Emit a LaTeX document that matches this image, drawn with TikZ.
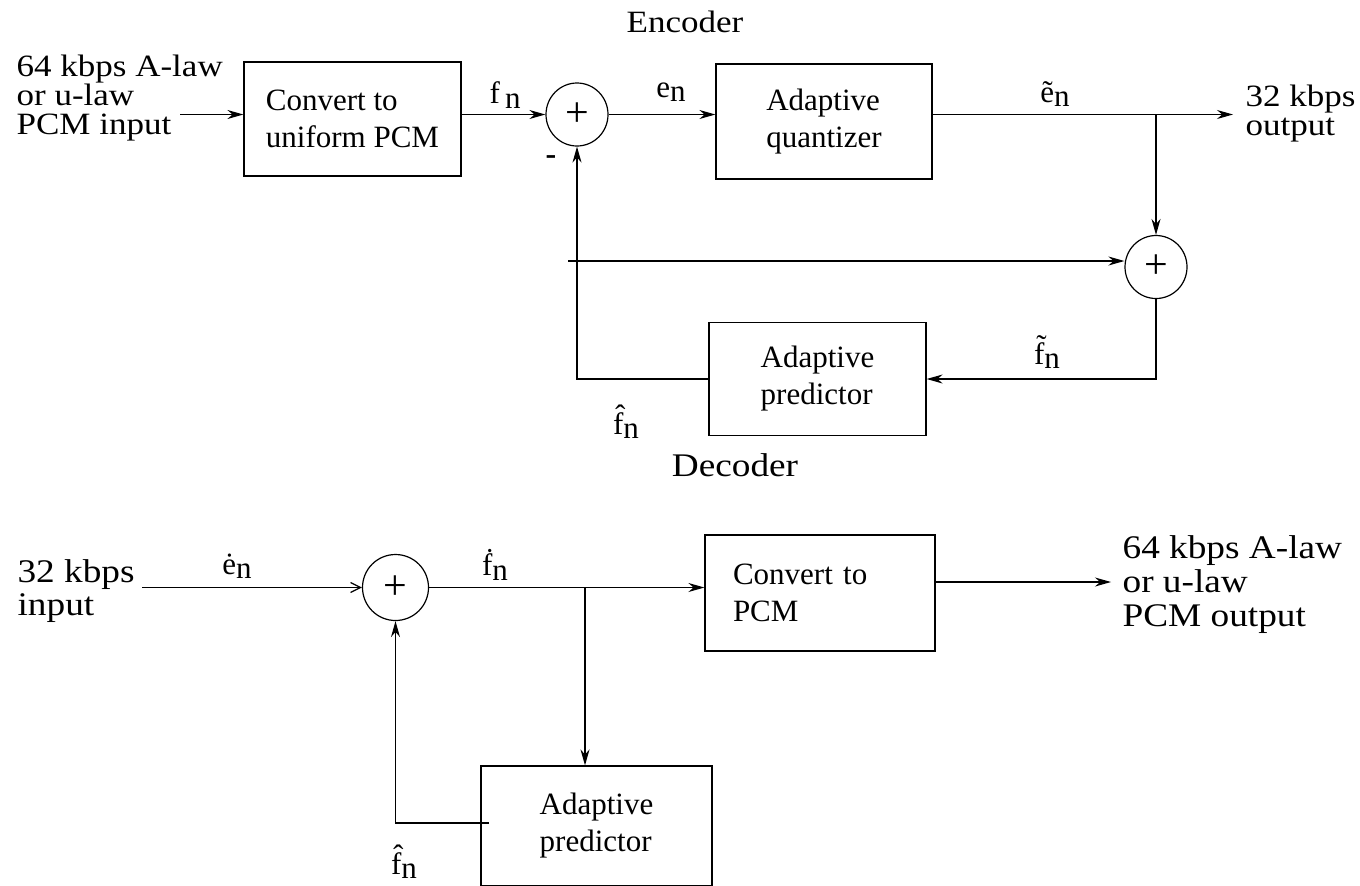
\documentclass[tikz,border=0pt]{standalone}
\usepackage{fontspec}
\setmainfont{Liberation Serif}
\newfontfamily\widefont[FakeStretch=1.13]{Liberation Serif}
\usetikzlibrary{arrows.meta,shapes.geometric}
\newcommand*\sgnl[2]{#1\raisebox{-0.3ex}{#2}}
\newcommand*\lblsmall{\widefont\fontsize{15.5}{14.5}\selectfont}
\newcommand*\lblbig{\widefont\fontsize{16.5}{16.5}\selectfont}
\tikzstyle{block}=[draw,rectangle,inner sep=0pt,align=left,font=\fontsize{15.5}{18.5}\selectfont]
\tikzstyle{sum}=[draw,ellipse,inner sep=0pt,minimum width=31pt,minimum height=31.5pt,font=\fontsize{21}{21}\selectfont]
\tikzstyle{sig}=[inner sep=0pt,font=\fontsize{15.5}{15.5}\selectfont]
\tikzstyle{io}=[inner sep=0pt,anchor=west,align=left]
\tikzstyle{arr}=[-{Stealth[length=8pt,width=4.5pt]}]

\begin{document}
\begin{tikzpicture}[x=0.5pt, y=-0.5pt, line width=0.6pt]
      \useasboundingbox (0,0) rectangle (1360,885);
      \clip (0,0) rectangle (1360,885);
      % encoder
      \node (enc) [font=\lblsmall] at (685,22) {Encoder};
      \node (in1) [io, font=\lblsmall] at (16,98) {64 kbps A-law\\or u-law\\PCM input};
      \node (conv) [block, minimum width=108.5pt, minimum height=57pt] at (352.5,119) {Convert to\\uniform PCM};
      \node (sum1) [sum] at (577,114.5) {+};
      \node (quant) [block, minimum width=108pt, minimum height=57.5pt] at (824,121.5) {Adaptive\\quantizer};
      \node (out1) [io, font=\lblsmall] at (1245,114) {32 kbps\\output};
      \node (sum2) [sum] at (1156,267) {+};
      \node (pred1) [block, minimum width=108.5pt, minimum height=56.5pt] at (817.5,379) {Adaptive\\predictor};
      \coordinate (x1) at (180,114.5);
      \coordinate (y1) at (1233,114.5);
      \coordinate (b1) at (1156,114.5);
      \coordinate (tap) at (568,261);
      \node (fn) [sig] at (505,95) {\sgnl{f\,}{n}};
      \node (en) [sig] at (671,92) {\sgnl{e}{n}};
      \node (eq) [sig] at (1055,94) {\sgnl{\~{e}}{n}};
      \node (minus) [font=\fontsize{16}{16}\selectfont\bfseries] at (551,160) {-};
      \node (ft) [sig] at (1047,352) {\sgnl{\~{f}}{n}};
      \node (fh1) [sig] at (626,422) {\sgnl{\^{f}}{n}};
      \draw[arr] (x1) -- (x1 -| conv.west);
      \draw[arr] (conv.east |- sum1) -- (sum1.west);
      \draw[arr] (sum1.east) -- (sum1.east -| quant.west);
      \draw[arr] (quant.east |- sum1) -- (y1);
      \draw[arr] (b1) -- (sum2.north);
      \draw[arr] (tap) -- (tap -| sum2.west);
      \draw[arr] (sum2.south) |- (pred1.east);
      \draw[arr] (pred1.west) -| (sum1.south);
      % decoder
      \node (dec) [font=\lblbig] at (735,465) {Decoder};
      \node (in2) [io, font=\lblbig] at (17,591) {32 kbps\\input};
      \node (sum3) [sum, minimum width=33pt, minimum height=33pt] at (395.5,587.5) {+};
      \node (topcm) [block, text width=87pt, inner xsep=14pt, minimum height=58pt] at (820,593) {Convert to\\PCM};
      \node (out2) [io, font=\widefont\fontsize{16.5}{17}\selectfont] at (1122,585) {64 kbps A-law\\or u-law\\PCM output};
      \node (pred2) [block, minimum width=115.5pt, minimum height=60pt] at (596.5,826) {Adaptive\\predictor};
      \coordinate (x2) at (142,587.5);
      \coordinate (b2) at (585,587.5);
      \coordinate (y2) at (1111,582);
      \coordinate (r2) at (489,823);
      \node (ed) [sig] at (237,566) {\sgnl{\.{e}}{n}};
      \node (fd) [sig] at (495,565) {\sgnl{\.{f}}{n}};
      \node (fh2) [sig] at (404,862) {\sgnl{\^{f}}{n}};
      \draw[-{Straight Barb[length=5pt,width=5pt]}] (x2) -- (sum3.west);
      \draw[arr] (sum3.east) -- (sum3.east -| topcm.west);
      \draw[arr] (b2) -- (b2 |- pred2.north);
      \draw[arr] (topcm.east |- y2) -- (y2);
      \draw[arr] (r2) -| (sum3.south);
\end{tikzpicture}
\end{document}
